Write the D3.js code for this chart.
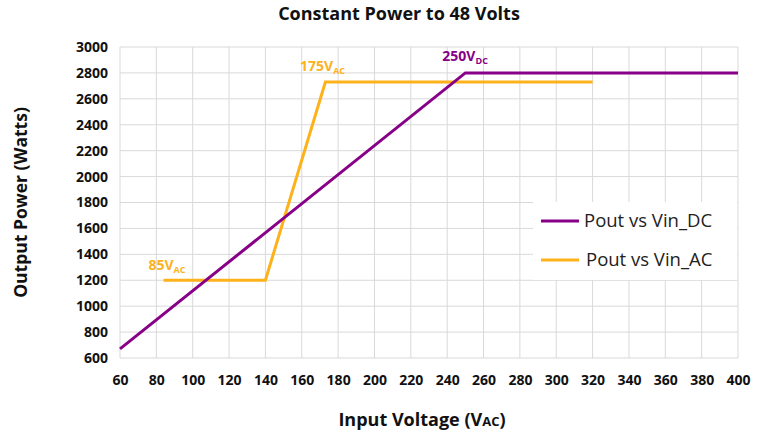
<!DOCTYPE html>
<html>
<head>
<meta charset="utf-8">
<script src="https://cdn.jsdelivr.net/npm/d3@7/dist/d3.min.js"></script>
<style>
  body { margin: 0; background: #fff; }
  text { font-family: "Open Sans", "DejaVu Sans", sans-serif; }
</style>
</head>
<body>
<svg width="767" height="434"></svg>
<script>
// Data
var xTicks = [60, 80, 100, 120, 140, 160, 180, 200, 220, 240, 260, 280, 300, 320, 340, 360, 380, 400];
var yTicks = [600, 800, 1000, 1200, 1400, 1600, 1800, 2000, 2200, 2400, 2600, 2800, 3000];
var dcVin = [60, 250, 400];
var dcPout = [670, 2800, 2800];
var acVin = [84, 140, 173, 320];
var acPout = [1200, 1200, 2730, 2730];
var seriesNames = ["Pout vs Vin_DC", "Pout vs Vin_AC"];
var notes = [
  {v: "85", sub: "AC", x: 85, y: 1200, series: 1},
  {v: "175", sub: "AC", x: 175, y: 2730, series: 1},
  {v: "250", sub: "DC", x: 250, y: 2800, series: 0}
];

var colors = ["#870087", "#fdb11b"];

var svg = d3.select("svg");
var margin = {left: 120, right: 29, top: 47, bottom: 76};
var width = 767, height = 434;

var x = d3.scaleLinear().domain([60, 400]).range([margin.left, width - margin.right]);
var y = d3.scaleLinear().domain([600, 3000]).range([height - margin.bottom, margin.top]);

// Gridlines
svg.append("g").selectAll("line").data(xTicks).enter().append("line")
  .attr("x1", d => x(d)).attr("x2", d => x(d))
  .attr("y1", y(600)).attr("y2", y(3000))
  .attr("stroke", "#d9d9d9").attr("stroke-width", 1);
svg.append("g").selectAll("line").data(yTicks).enter().append("line")
  .attr("x1", x(60)).attr("x2", x(400))
  .attr("y1", d => y(d)).attr("y2", d => y(d))
  .attr("stroke", "#d9d9d9").attr("stroke-width", 1);

// Axes (labels only)
var xAxis = svg.append("g")
  .attr("transform", "translate(0," + (y(600) + 9) + ")")
  .call(d3.axisBottom(x).tickValues(xTicks).tickFormat(d3.format("d")).tickSize(0).tickPadding(8));
var yAxis = svg.append("g")
  .attr("transform", "translate(" + (x(60) - 12) + ",0)")
  .call(d3.axisLeft(y).tickValues(yTicks).tickFormat(d3.format("d")).tickSize(0).tickPadding(0));
[xAxis, yAxis].forEach(function(a) {
  a.select(".domain").remove();
  a.selectAll("text")
    .attr("font-family", "'Open Sans', sans-serif")
    .attr("font-size", "14px")
    .attr("font-weight", "bold")
    .attr("fill", "#111");
});

// Lines
var line = d3.line().x(d => x(d[0])).y(d => y(d[1]));
var dcData = dcVin.map((v, i) => [v, dcPout[i]]);
var acData = acVin.map((v, i) => [v, acPout[i]]);

svg.append("path").datum(acData)
  .attr("fill", "none").attr("stroke", colors[1]).attr("stroke-width", 3)
  .attr("d", line);
svg.append("path").datum(dcData)
  .attr("fill", "none").attr("stroke", colors[0]).attr("stroke-width", 3)
  .attr("d", line);

// Annotations
var offsets = [[-17, -10], [-29, -11], [-23, -12]];
notes.forEach(function(n, i) {
  var t = svg.append("text")
    .attr("x", x(n.x) + offsets[i][0])
    .attr("y", y(n.y) + offsets[i][1])
    .attr("fill", colors[n.series])
    .attr("font-size", "14px")
    .attr("font-weight", "bold");
  t.append("tspan").text(n.v + "V");
  t.append("tspan").attr("font-size", "9px").attr("dy", 3).text(n.sub);
});

// Legend
var lg = svg.append("g");
lg.append("rect").attr("x", 533).attr("y", 202).attr("width", 204).attr("height", 78).attr("fill", "#fff");
seriesNames.forEach(function(name, i) {
  var ly = 221 + i * 39;
  lg.append("line")
    .attr("x1", 541).attr("x2", 579).attr("y1", ly).attr("y2", ly)
    .attr("stroke", colors[i]).attr("stroke-width", 3);
  lg.append("text")
    .attr("x", 584 + i * 2).attr("y", ly + 6)
    .attr("font-size", "18.5px").attr("fill", "#222")
    .text(name);
});

// Title
svg.append("text")
  .attr("x", 399).attr("y", 20)
  .attr("text-anchor", "middle")
  .attr("font-size", "18px").attr("font-weight", "bold").attr("fill", "#111")
  .text("Constant Power to 48 Volts");

// Axis titles
var xt = svg.append("text")
  .attr("x", 422).attr("y", 426)
  .attr("text-anchor", "middle")
  .attr("font-size", "18px").attr("font-weight", "bold").attr("fill", "#111");
xt.append("tspan").text("Input Voltage (V");
xt.append("tspan").attr("font-size", "13px").text("AC");
xt.append("tspan").text(")");

svg.append("text")
  .attr("transform", "translate(27," + ((margin.top + height - margin.bottom) / 2) + ") rotate(-90)")
  .attr("text-anchor", "middle")
  .attr("font-size", "17.5px").attr("font-weight", "bold").attr("fill", "#111")
  .text("Output Power (Watts)");
</script>
</body>
</html>
